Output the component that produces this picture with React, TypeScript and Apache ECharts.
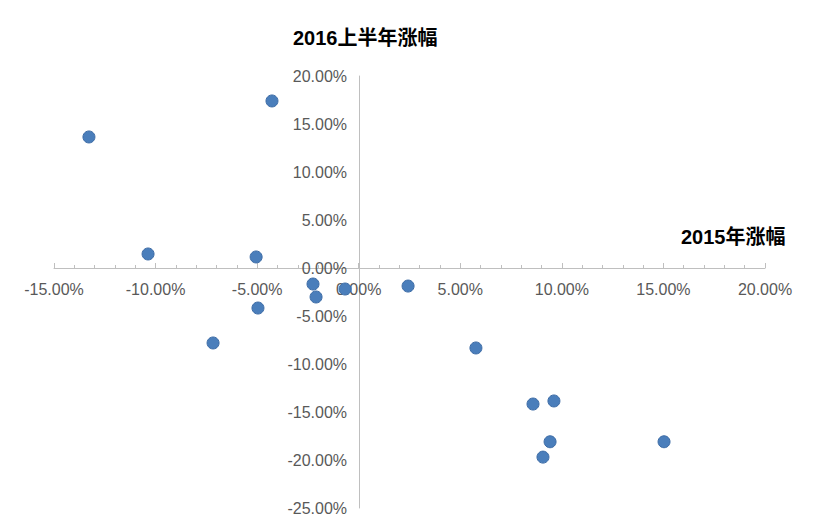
import React, { useEffect, useRef } from "react";
import * as echarts from "echarts";

const xChange2015 = [-13.28, -4.27, -10.37, -5.05, -2.25, -2.1, -0.67, 2.43, -4.96, -7.17, 5.77, 8.58, 9.61, 9.42, 9.07, 15.03];
const yChange2016H1 = [13.65, 17.4, 1.46, 1.15, -1.67, -3.02, -2.19, -1.88, -4.17, -7.81, -8.33, -14.17, -13.85, -18.1, -19.7, -18.1];
const xTitle = "2015年涨幅";
const yTitle = "2016上半年涨幅";

export default function App() {
  const ref = useRef<HTMLDivElement>(null);
  useEffect(() => {
    if (!ref.current) return;
    const chart = echarts.init(ref.current, null, { renderer: "svg" });
    const data = xChange2015.map((x, i) => [x, yChange2016H1[i]]);
    const fmt = (v: number) => v.toFixed(2) + "%";
    const font = "'Liberation Sans', Arial, sans-serif";
    chart.setOption({
      animation: false,
      backgroundColor: "#ffffff",
      grid: { left: 54, right: 53, top: 76, bottom: 24, containLabel: false, outerBoundsMode: "none" },
      xAxis: {
        type: "value",
        min: -15,
        max: 20,
        interval: 5,
        position: "bottom",
        offset: -240,
        axisLine: { onZero: false, lineStyle: { color: "#bfbfbf", width: 1 } },
        axisTick: { show: true, inside: true, length: 5, lineStyle: { color: "#bfbfbf" } },
        minorTick: { show: true, splitNumber: 5, length: 3, lineStyle: { color: "#bfbfbf" } },
        splitLine: { show: false },
        axisLabel: { formatter: fmt, color: "#595959", fontSize: 16, fontFamily: font, margin: 13 },
      },
      yAxis: {
        type: "value",
        min: -25,
        max: 20,
        interval: 5,
        position: "left",
        offset: -305,
        axisLine: { onZero: false, lineStyle: { color: "#bfbfbf", width: 1 } },
        axisTick: { show: false },
        splitLine: { show: false },
        axisLabel: { formatter: fmt, color: "#595959", fontSize: 16, fontFamily: font, margin: 12 },
      },
      series: [
        {
          type: "scatter",
          data,
          symbolSize: 12,
          itemStyle: { color: "#4a7ebb", borderColor: "#3d6ca6", borderWidth: 1, opacity: 1 },
        },
      ],
      graphic: [
        {
          type: "text",
          left: 293,
          top: 28,
          style: { text: yTitle, font: "bold 20px 'Liberation Sans', 'Noto Sans CJK SC', sans-serif", fill: "#000" },
        },
        {
          type: "text",
          left: 681,
          top: 227,
          style: { text: xTitle, font: "bold 20px 'Liberation Sans', 'Noto Sans CJK SC', sans-serif", fill: "#000" },
        },
      ],
    });
    return () => chart.dispose();
  }, []);
  return <div ref={ref} style={{ width: 818, height: 532, position: "absolute", left: 0, top: 0 }} />;
}
